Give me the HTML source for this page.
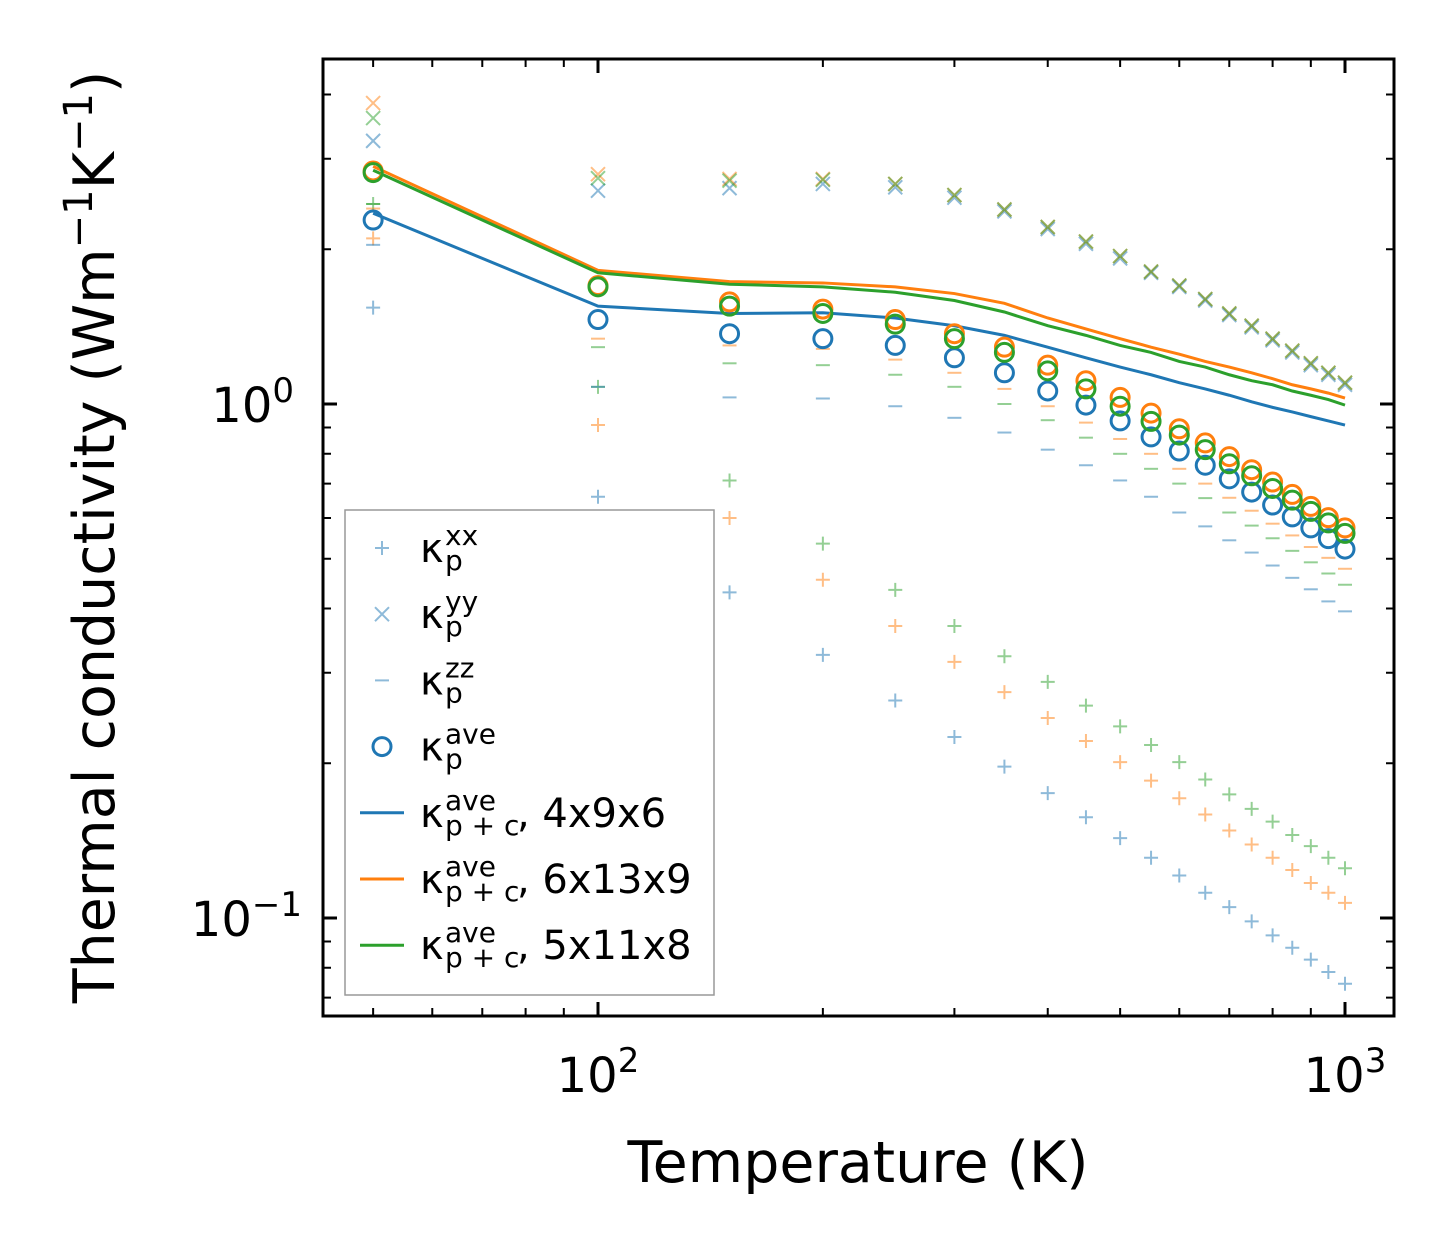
<!DOCTYPE html>
<html><head><meta charset="utf-8"><style>
body{margin:0;background:#fff}
svg{display:block;font-family:"DejaVu Sans","Liberation Sans",sans-serif}
</style></head><body>
<svg id="chart" width="1454" height="1254" viewBox="0 0 1454 1254">
<rect x="0" y="0" width="1454" height="1254" fill="#fff"/>
<g id="marks"></g>
<g id="ticks"></g>
<rect x="323" y="59" width="1071" height="957" fill="none" stroke="#000" stroke-width="3"/>
<text x="858" y="1182" font-size="57" text-anchor="middle">Temperature (K)</text>
<text transform="translate(114,537) rotate(-90)" font-size="57" text-anchor="middle">Thermal conductivity (Wm<tspan dy="-22" font-size="40">−1</tspan><tspan dy="22">K</tspan><tspan dy="-22" font-size="40">−1</tspan><tspan dy="22">)</tspan></text>
<g id="legend"></g>
</svg>
<script>
const temps=[50,100,150,200,250,300,350,400,450,500,550,600,650,700,750,800,850,900,950,1000];
const xTickVals=[100,1000];
const xTickLabels=["2","3"];
const yTickVals=[1,0.1];
const yTickLabels=["0","−1"];
const aveBlue=[2.28,1.46,1.37,1.34,1.30,1.23,1.15,1.06,0.995,0.927,0.863,0.81,0.76,0.715,0.674,0.636,0.603,0.574,0.547,0.522];
const aveOrange=[2.84,1.70,1.58,1.53,1.46,1.37,1.29,1.19,1.11,1.03,0.96,0.895,0.84,0.79,0.745,0.705,0.667,0.632,0.601,0.574];
const aveGreen=[2.82,1.69,1.55,1.50,1.43,1.34,1.26,1.16,1.07,0.99,0.925,0.87,0.815,0.765,0.725,0.685,0.65,0.618,0.587,0.56];
const lineBlue=[2.35,1.55,1.50,1.505,1.47,1.42,1.36,1.29,1.23,1.18,1.14,1.10,1.07,1.04,1.01,0.985,0.965,0.945,0.927,0.91];
const lineOrange=[2.90,1.82,1.73,1.72,1.69,1.64,1.57,1.47,1.40,1.34,1.29,1.25,1.21,1.18,1.15,1.12,1.09,1.07,1.05,1.027];
const lineGreen=[2.85,1.80,1.71,1.69,1.65,1.59,1.51,1.42,1.36,1.30,1.26,1.21,1.18,1.14,1.11,1.09,1.06,1.04,1.02,0.995];
const xxBlue=[1.54,0.66,0.43,0.325,0.265,0.225,0.197,0.175,0.157,0.143,0.131,0.121,0.112,0.105,0.0985,0.0925,0.0875,0.083,0.0785,0.0745];
const xxOrange=[2.1,0.91,0.60,0.455,0.37,0.315,0.275,0.245,0.221,0.201,0.185,0.171,0.159,0.148,0.139,0.131,0.124,0.117,0.112,0.107];
const xxGreen=[2.45,1.08,0.71,0.535,0.435,0.37,0.323,0.288,0.259,0.236,0.217,0.201,0.186,0.174,0.163,0.154,0.145,0.138,0.131,0.125];
const yyBlue=[3.25,2.6,2.63,2.68,2.64,2.52,2.37,2.19,2.05,1.92,1.80,1.69,1.59,1.49,1.41,1.33,1.26,1.19,1.14,1.09];
const yyOrange=[3.85,2.8,2.74,2.74,2.68,2.55,2.39,2.21,2.07,1.94,1.81,1.70,1.60,1.50,1.42,1.34,1.27,1.20,1.15,1.10];
const yyGreen=[3.6,2.75,2.72,2.73,2.68,2.55,2.39,2.21,2.07,1.94,1.81,1.70,1.60,1.50,1.42,1.34,1.27,1.20,1.15,1.10];
const zzBlue=[2.04,1.08,1.03,1.025,0.99,0.94,0.88,0.815,0.76,0.71,0.66,0.615,0.578,0.543,0.514,0.485,0.459,0.436,0.413,0.395];
const zzOrange=[2.4,1.34,1.3,1.28,1.22,1.15,1.07,0.99,0.92,0.855,0.8,0.748,0.7,0.657,0.62,0.585,0.555,0.527,0.502,0.478];
const zzGreen=[2.45,1.29,1.2,1.19,1.14,1.08,1.0,0.93,0.86,0.8,0.748,0.7,0.656,0.615,0.58,0.548,0.518,0.492,0.468,0.445];

const NS="http://www.w3.org/2000/svg";
const X0=323,X1=1394,Y0=59,Y1=1016;
function xs(v){return 598+747*(Math.log10(v)-2);}
function ys(v){return 404-514*Math.log10(v);}
const C={b:"#1f77b4",o:"#ff7f0e",g:"#2ca02c"};
function el(tag,attrs,parent){const e=document.createElementNS(NS,tag);for(const k in attrs)e.setAttribute(k,attrs[k]);parent.appendChild(e);return e;}
const marks=document.getElementById('marks');
function plus(x,y,c,g){el('path',{d:`M${x-7} ${y}h14M${x} ${y-7}v14`,stroke:c,'stroke-width':2,opacity:0.5},g);}
function cross(x,y,c,g){el('path',{d:`M${x-7} ${y-7}l14 14M${x-7} ${y+7}l14 -14`,stroke:c,'stroke-width':2,opacity:0.5},g);}
function dash(x,y,c,g){el('path',{d:`M${x-7} ${y}h14`,stroke:c,'stroke-width':2,opacity:0.5},g);}
function circ(x,y,c,g){el('circle',{cx:x,cy:y,r:9,fill:'none',stroke:c,'stroke-width':3},g);}
function series(arr,fn,c,name){
  const g=el('g',{},marks);
  
  
  arr.forEach((v,i)=>fn(xs(temps[i]),ys(v),c,g));
}
function line(arr,c,name){
  const p=el('polyline',{points:arr.map((v,i)=>xs(temps[i])+','+ys(v)).join(' '),fill:'none',stroke:c,'stroke-width':3},marks);
  
  
}
series(xxBlue,plus,C.b,'kxx-blue');series(xxOrange,plus,C.o,'kxx-orange');series(xxGreen,plus,C.g,'kxx-green');
series(yyBlue,cross,C.b,'kyy-blue');series(yyOrange,cross,C.o,'kyy-orange');series(yyGreen,cross,C.g,'kyy-green');
series(zzBlue,dash,C.b,'kzz-blue');series(zzOrange,dash,C.o,'kzz-orange');series(zzGreen,dash,C.g,'kzz-green');
line(lineBlue,C.b,'kpc-line-4x9x6');line(lineOrange,C.o,'kpc-line-6x13x9');line(lineGreen,C.g,'kpc-line-5x11x8');
series(aveBlue,circ,C.b,'kave-blue');series(aveOrange,circ,C.o,'kave-orange');series(aveGreen,circ,C.g,'kave-green');

const tk=document.getElementById('ticks');
function tick(d,w){el('path',{d:d,stroke:'#000','stroke-width':w},tk);}
for(let dec=1;dec<=3;dec++)for(let m=1;m<10;m++){const v=m*Math.pow(10,dec);const x=xs(v);if(x<X0||x>X1)continue;
  const L=m===1?14:8,w=m===1?3:2;tick(`M${x} ${Y1}v${-L}M${x} ${Y0}v${L}`,w);}
for(let dec=-2;dec<=1;dec++)for(let m=1;m<10;m++){const v=m*Math.pow(10,dec);const y=ys(v);if(y<Y0||y>Y1)continue;
  const L=m===1?14:8,w=m===1?3:2;tick(`M${X0} ${y}h${L}M${X1} ${y}h${-L}`,w);}
xTickVals.forEach((v,i)=>{const t=el('text',{x:xs(v),y:1092,'font-size':48,'text-anchor':'middle'},tk);
  
  t.innerHTML=`10<tspan dy="-20" font-size="34">${xTickLabels[i]}</tspan>`;});
yTickVals.forEach((v,i)=>{const t=el('text',{x:yTickLabels[i].length>1?302:294,y:ys(v)+18,'font-size':48,'text-anchor':'end'},tk);
  
  t.innerHTML=`10<tspan dy="-20" font-size="34">${yTickLabels[i]}</tspan>`;});

const lg=document.getElementById('legend');
el('rect',{x:345,y:510,width:369,height:485,fill:'#fff',stroke:'#999','stroke-width':1.5},lg);
const entries=[['p','xx','',plus,C.b],['p','yy','',cross,C.b],['p','zz','',dash,C.b],['p','ave','',circ,C.b],['p + c','ave',', 4x9x6','l',C.b],['p + c','ave',', 6x13x9','l',C.o],['p + c','ave',', 5x11x8','l',C.g]];
entries.forEach((e,i)=>{const y=548+i*66.2;const g=el('g',{},lg);
  
  if(e[3]==='l')el('path',{d:`M360 ${y}h44`,stroke:e[4],'stroke-width':3},g);else e[3](382,y,e[4],g);
  const k=el('text',{x:420,y:y+14,'font-size':40},g);k.textContent='κ';
  const sb=el('text',{x:445,y:y+22,'font-size':28},g);sb.textContent=e[0];
  const sp=el('text',{x:445,y:y-3,'font-size':28},g);sp.textContent=e[1];
  if(e[2]){const s=el('text',{x:517,y:y+14,'font-size':40},g);s.textContent=e[2];}
});
</script>
</body></html>
